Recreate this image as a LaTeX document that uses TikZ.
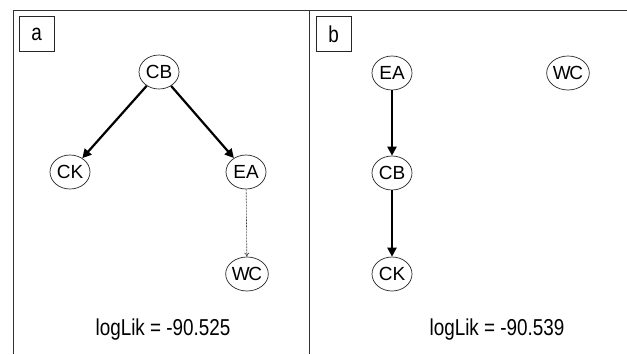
\documentclass[tikz,border=0pt]{standalone}
\usepackage{fontspec}
\setmainfont{Liberation Sans}
\newfontfamily\narrowfont[FakeStretch=0.82]{Liberation Sans}
\usetikzlibrary{shapes.geometric,arrows.meta}
\tikzset{
  frameline/.style={draw=black!80, line width=1pt},
  var/.style={ellipse, draw=black!85, line width=0.7pt, minimum width=40pt,
    minimum height=34pt, inner sep=0pt, font=\fontsize{19}{19}\selectfont},
  tag/.style={draw=black!85, line width=0.7pt, minimum width=35pt,
    minimum height=35pt, inner sep=0pt, font=\narrowfont\fontsize{23}{23}\selectfont},
  strong/.style={-{Triangle[length=9pt,width=9pt]}, line width=2.2pt},
  weak/.style={-{To[length=4pt,width=5pt]}, line width=0.6pt, black!75,
    dash pattern=on 2pt off 1pt},
  score/.style={font=\narrowfont\fontsize{23}{23}\selectfont}
}
\begin{document}
\begin{tikzpicture}[x=1pt, y=-1pt]
  \useasboundingbox (0,0) rectangle (627,354);
  % panel frame
  \coordinate (tl) at (13,10);
  \coordinate (tr) at (627,10);
  \coordinate (bl) at (13,354);
  \coordinate (mt) at (309,10);
  \coordinate (mb) at (309,354);
  \draw[frameline] (bl) -- (tl) -- (tr);
  \draw[frameline] (mt) -- (mb);

  % panel a
  \node[tag] (taga) at (36.5,34) {a};
  \node[var] (aCB) at (159,72) {CB};
  \node[var] (aCK) at (70,172) {CK};
  \node[var] (aEA) at (246,172) {EA};
  \node[var] (aWC) at (247,274) {W\kern-1.5ptC};
  \draw[strong] (aCB) -- (aCK);
  \draw[strong] (aCB) -- (aEA);
  \draw[weak] (aEA) -- (aWC);
  \node[score] (sa) at (163,330) {logLik = -90.525};

  % panel b
  \node[tag] (tagb) at (333.5,34) {b};
  \node[var] (bEA) at (392,73) {EA};
  \node[var] (bWC) at (568,73) {W\kern-1.5ptC};
  \node[var] (bCB) at (392,173) {CB};
  \node[var] (bCK) at (392,274) {CK};
  \draw[strong] (bEA) -- (bCB);
  \draw[strong] (bCB) -- (bCK);
  \node[score] (sb) at (497,330) {logLik = -90.539};
\end{tikzpicture}
\end{document}
